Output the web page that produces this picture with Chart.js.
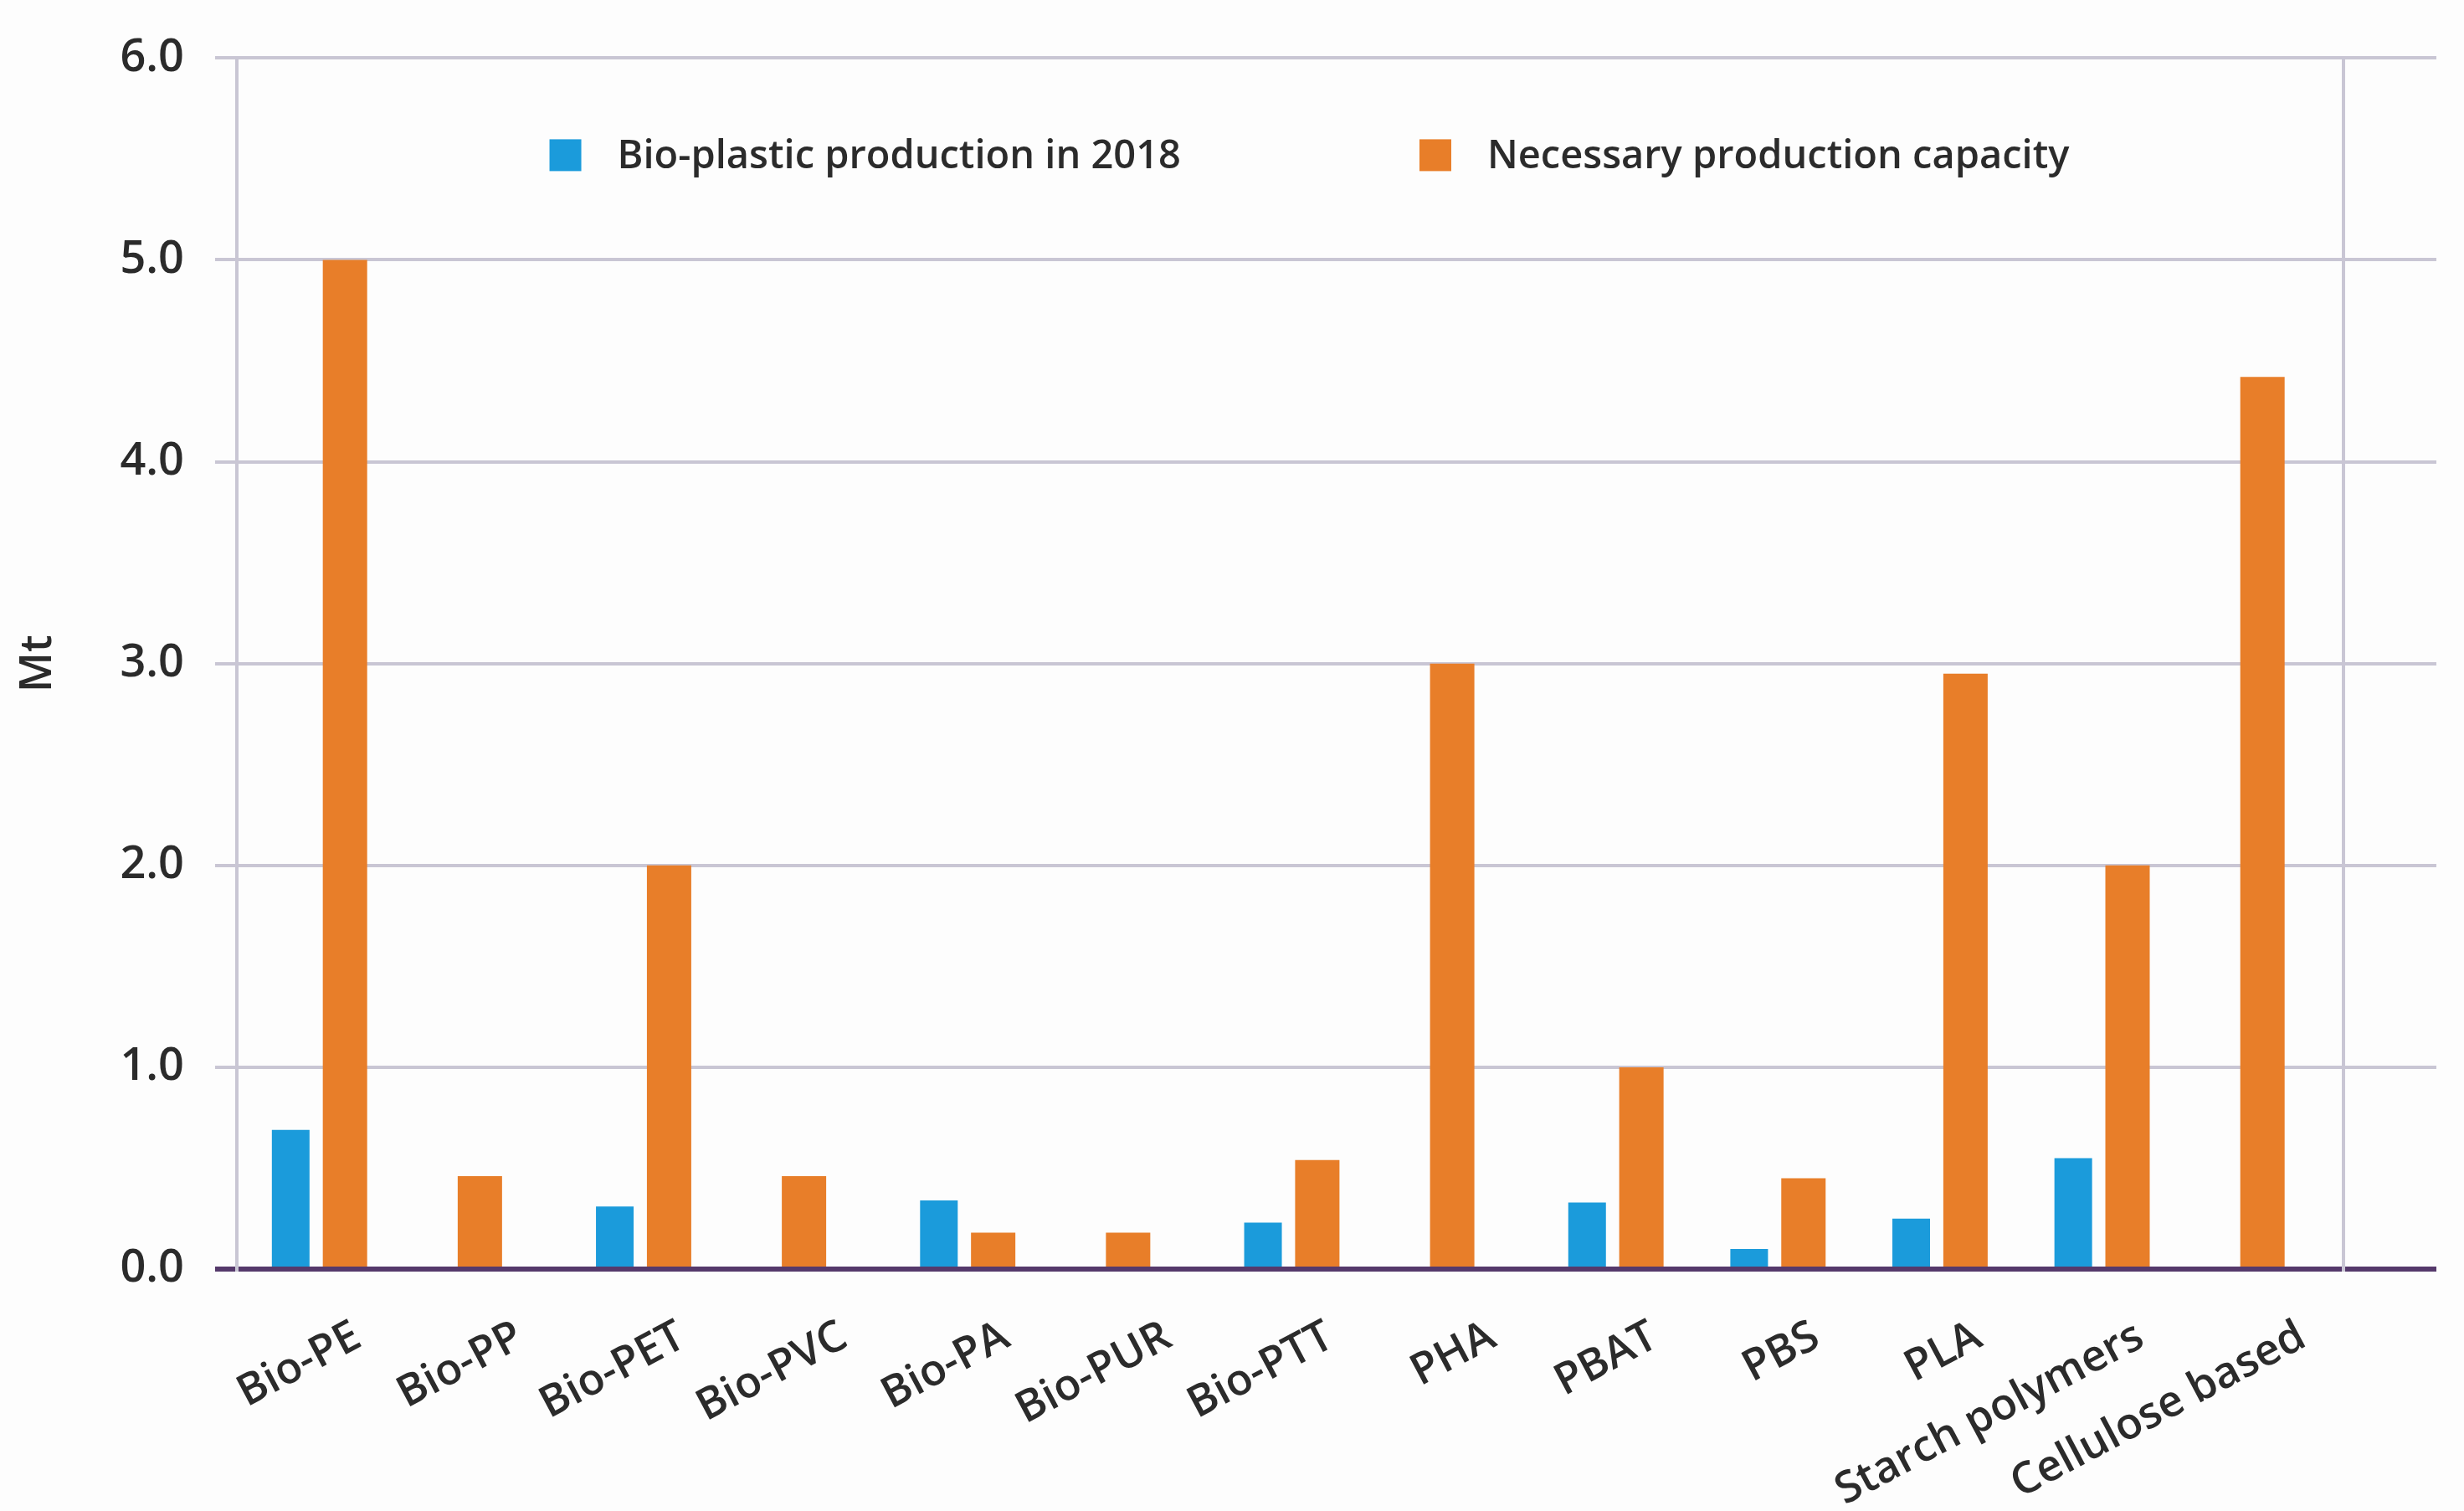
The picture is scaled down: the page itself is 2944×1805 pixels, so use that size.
<!DOCTYPE html>
<html>
<head>
<meta charset="utf-8">
<title>Bio-plastic production vs necessary capacity</title>
<script src="https://cdn.jsdelivr.net/npm/chart.js@4.4.1/dist/chart.umd.min.js"></script>
<style>
  html, body { margin: 0; padding: 0; background: #fdfdfd; }
  #wrap { width: 2944px; height: 1805px; }
</style>
</head>
<body>
<div id="wrap"><canvas id="chart" width="2944" height="1805"></canvas></div>
<script>
// values (Mt)
const categories = ['Bio-PE', 'Bio-PP', 'Bio-PET', 'Bio-PVC', 'Bio-PA', 'Bio-PUR', 'Bio-PTT',
                    'PHA', 'PBAT', 'PBS', 'PLA', 'Starch polymers', 'Cellulose based'];
const production2018 = [0.69, null, 0.31, null, 0.34, null, 0.23, null, 0.33, 0.10, 0.25, 0.55, null];
const necessaryCapacity = [5.0, 0.46, 2.0, 0.46, 0.18, 0.18, 0.54, 3.0, 1.0, 0.45, 2.95, 2.0, 4.42];
const yTicks = [0, 1, 2, 3, 4, 5, 6];

const FONT = "'Open Sans', 'Noto Sans', sans-serif";
const TEXT = '#2b2b2b';
const GRID = '#c9c6d4';
const BASE = '#55396b';

// legend drawn inside the plot area, between the 6.0 and 5.0 lines
const insideLegend = {
  id: 'insideLegend',
  afterDraw(chart, args, opts) {
    const { ctx, chartArea } = chart;
    ctx.save();
    ctx.font = `600 ${opts.size}px ${FONT}`;
    const items = chart.data.datasets.map(ds => ({
      label: ds.label, color: ds.backgroundColor, w: ctx.measureText(ds.label).width
    }));
    const total = items.reduce((s, it) => s + opts.box + opts.gap + it.w, 0) + opts.spacing * (items.length - 1);
    let x = (chartArea.left + chartArea.right) / 2 - total / 2 + opts.shiftX;
    const y = chartArea.top + opts.offsetY;
    ctx.textBaseline = 'middle';
    ctx.textAlign = 'left';
    items.forEach(it => {
      ctx.fillStyle = it.color;
      ctx.fillRect(x, y - opts.box / 2, opts.box, opts.box);
      x += opts.box + opts.gap;
      ctx.fillStyle = TEXT;
      ctx.fillText(it.label, x, y + 2);
      x += it.w + opts.spacing;
    });
    ctx.restore();
  }
};

const gridColor = c => (c.tick && c.tick.value === 0 ? BASE : GRID);
const gridWidth = c => (c.tick && c.tick.value === 0 ? 6 : 4);

new Chart(document.getElementById('chart'), {
  type: 'bar',
  data: {
    labels: categories,
    datasets: [
      {
        label: 'Bio-plastic production in 2018',
        data: production2018,
        backgroundColor: '#1b9bdb',
        categoryPercentage: 0.67,
        barPercentage: 0.7,
        maxBarThickness: 45
      },
      {
        label: 'Necessary production capacity',
        data: necessaryCapacity,
        backgroundColor: '#e87e29',
        categoryPercentage: 0.67,
        barPercentage: 0.82,
        maxBarThickness: 53
      }
    ]
  },
  options: {
    responsive: false,
    devicePixelRatio: 1,
    animation: false,
    skipNull: true,
    layout: { padding: { top: 68, left: 11, right: 33, bottom: 0 } },
    plugins: {
      legend: { display: false },
      tooltip: { enabled: false },
      insideLegend: { size: 47, box: 38, gap: 43, spacing: 285, offsetY: 116, shiftX: 23 }
    },
    scales: {
      x: {
        grid: { display: false, drawTicks: false },
        border: { display: false },
        ticks: {
          autoSkip: false,
          minRotation: 28,
          maxRotation: 28,
          padding: 50,
          labelOffset: 48,
          color: TEXT,
          font: { family: FONT, size: 52, weight: 600 }
        },
        afterFit: s => { s.height = 289; }
      },
      y: {
        min: 0,
        max: 6,
        afterBuildTicks: s => { s.ticks = yTicks.map(v => ({ value: v })); },
        grid: { color: gridColor, lineWidth: gridWidth, tickLength: 26, drawTicks: true },
        border: { display: true, color: GRID, width: 4 },
        ticks: {
          padding: 37,
          color: TEXT,
          font: { family: FONT, size: 54, weight: 600 },
          callback: v => Number(v).toFixed(1)
        },
        title: {
          display: true,
          text: 'Mt',
          color: TEXT,
          font: { family: FONT, size: 52, weight: 600 },
          padding: { top: 4, bottom: 29 }
        }
      },
      y2: {
        position: 'right',
        min: 0,
        max: 6,
        afterBuildTicks: s => { s.ticks = yTicks.map(v => ({ value: v })); },
        grid: { color: gridColor, lineWidth: gridWidth, tickLength: 111, drawOnChartArea: false, drawTicks: true },
        border: { display: true, color: GRID, width: 4 },
        ticks: { padding: 0, callback: () => '' }
      }
    }
  },
  plugins: [insideLegend]
});
</script>
</body>
</html>
